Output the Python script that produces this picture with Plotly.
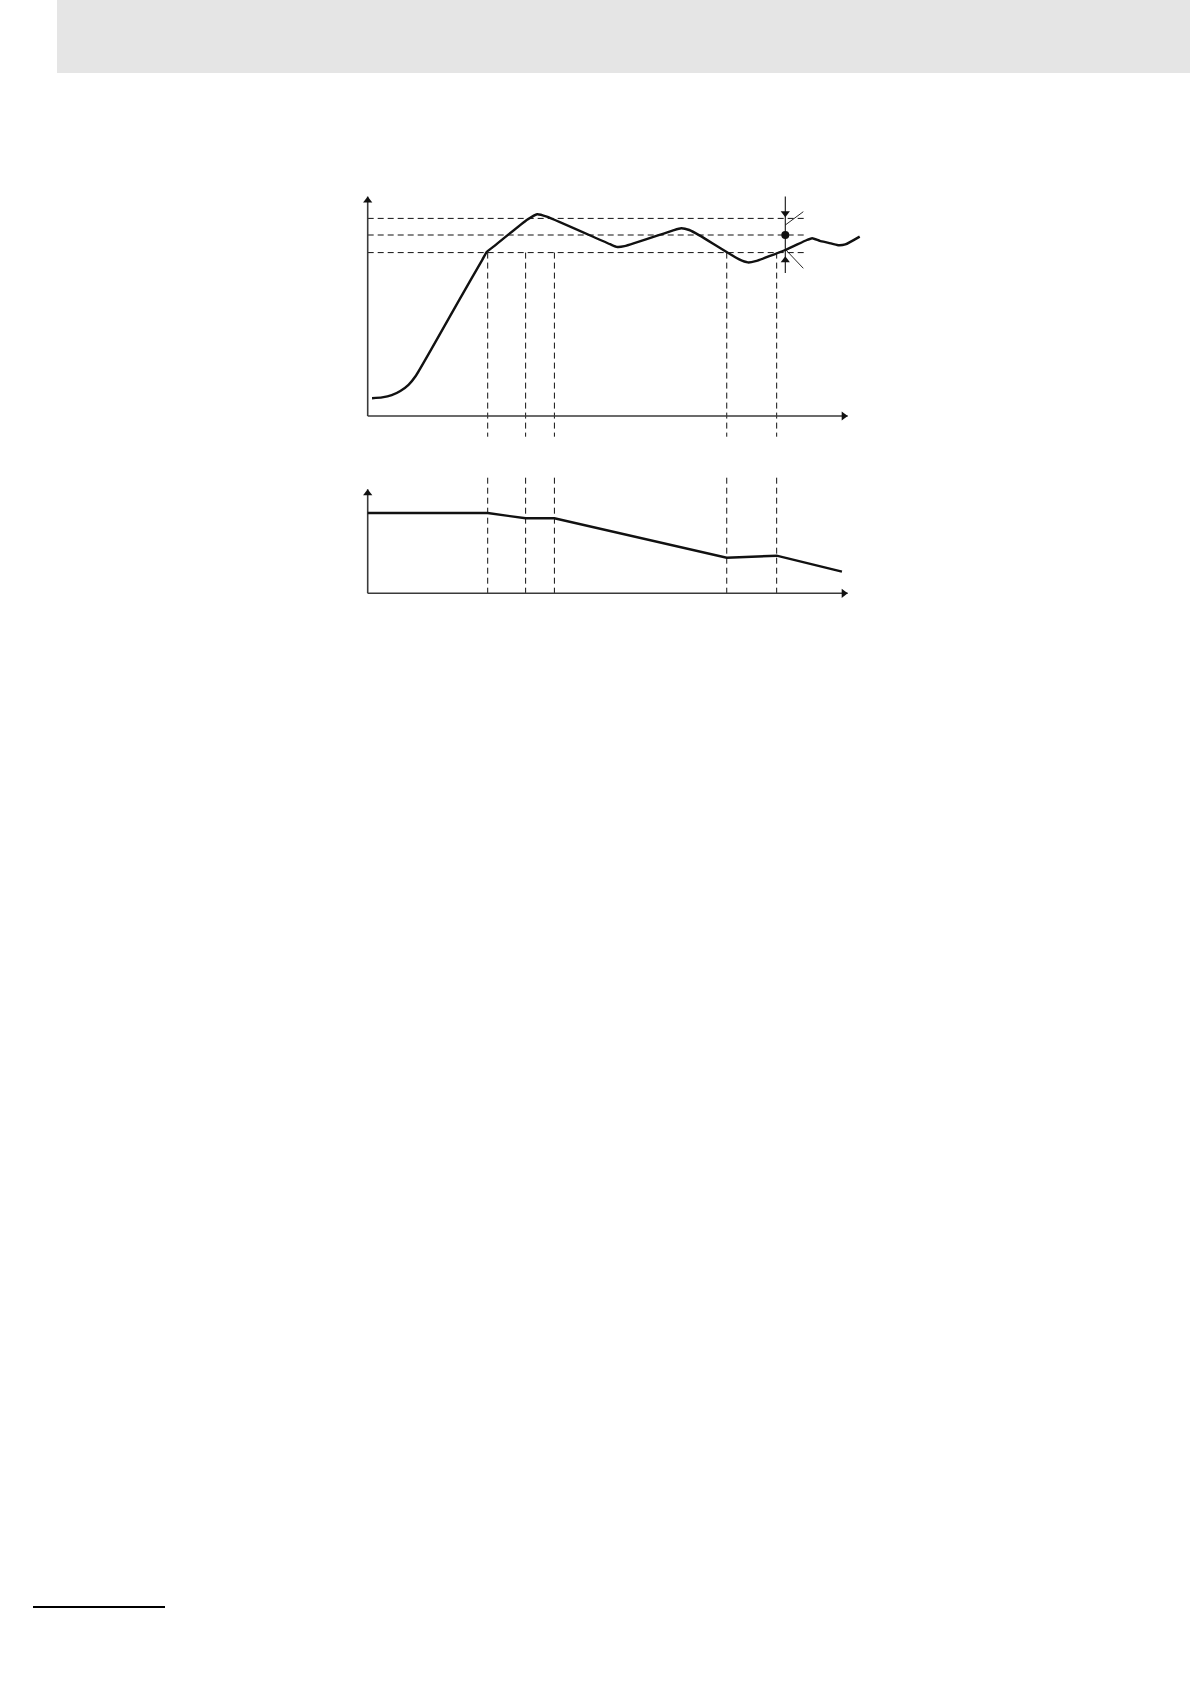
import plotly.graph_objects as go

# process value (temperature) response
pv_time = [0.9, 3.0, 5.0, 6.8, 8.5, 10.0, 19.2, 23.9, 24.8, 26.0, 33.3, 35.3,
           37.3, 50.5, 52.0, 53.5, 63.5, 65.3, 67.0, 69.2, 77.4, 79.2, 80.8,
           87.0, 91.5, 92.6, 94.2, 96.0, 98.0, 99.5, 102.5]
pv_value = [8.9, 9.3, 10.4, 12.5, 15.6, 20.0, 58.6, 78.2, 82.0, 84.3, 98.3,
            100.9, 99.7, 85.9, 84.5, 84.9, 92.7, 93.9, 93.0, 90.2, 78.3, 76.8,
            77.4, 83.0, 88.0, 88.9, 87.6, 86.6, 85.4, 85.8, 89.7]

# set point with band limits
sp_value = 90.5
band_upper = 98.8
band_lower = 81.7
band_end = 91.1          # where the dashed band lines stop
marker_time = 87.0       # time of the band annotation

# event times (vertical dashed lines)
event_times = [25.0, 32.9, 38.9, 74.8, 85.2]

# lower chart: manipulated output
mv_time = [0.0, 25.0, 32.9, 38.9, 74.8, 85.2, 98.8]
mv_value = [80.3, 80.3, 75.0, 75.0, 35.6, 37.6, 21.6]

T_END = 100.0
TOP_V_END = 109.7
BOT_V_END = 104.0

# pixel geometry (figure is 1190 x 1684, no margins)
W, H = 1190, 1684
X0_PX, PX_T = 367.7, 4.8
TOP_PX = (180, 440)
TOP_RANGE = [-12, 118]
BOT_PX = (470, 610)
BOT_RANGE = [-16.7, 123.3]

INK = "#111111"
AXIS = "#3a3a3a"


def dom(px):
    return [1 - px[1] / H, 1 - px[0] / H]


fig = go.Figure()


def seg(x, y, yaxis="y", color=INK, width=1.0, dash="solid", shape="linear"):
    fig.add_trace(go.Scatter(x=x, y=y, yaxis=yaxis, mode="lines",
                             line=dict(color=color, width=width, dash=dash,
                                       shape=shape, smoothing=0.5),
                             hoverinfo="skip", showlegend=False))


def mark(x, y, symbol, size, yaxis="y", color=INK):
    fig.add_trace(go.Scatter(x=x, y=y, yaxis=yaxis, mode="markers",
                             marker=dict(symbol=symbol, size=size, color=color,
                                         line=dict(width=0)),
                             cliponaxis=False, hoverinfo="skip",
                             showlegend=False))


DASH = "6px,4px"
arrow_r = 4  # half of marker size 8, in px

# ---- upper chart ----
for lvl in [band_upper, sp_value, band_lower]:
    seg([0, band_end], [lvl, lvl], dash=DASH)
for t in event_times:
    seg([t, t], [band_lower, -10.35], dash=DASH)
# axes
seg([0, 0], [0, TOP_V_END], color=AXIS, width=1.6)
seg([0, T_END], [0, 0], color=AXIS, width=1.6)
mark([0], [TOP_V_END - arrow_r / 2], "triangle-up", 8, color=INK)
mark([T_END - arrow_r / PX_T], [0], "triangle-right", 8, color=INK)
# response curve
seg(pv_time, pv_value, width=2.4, shape="spline")
# band annotation
seg([marker_time, marker_time], [TOP_V_END, 71.5], width=1.1)
seg([marker_time, marker_time + 3.75], [95.5, 102.15], width=0.9)
seg([marker_time, marker_time + 3.75], [83.35, 73.85], width=0.9)
mark([marker_time], [band_upper + 2.6], "triangle-down", 8)
mark([marker_time], [band_lower - 3.8], "triangle-up", 8)
mark([marker_time], [sp_value], "circle", 8)

# ---- lower chart ----
for t in event_times:
    seg([t, t], [115.6, 0], yaxis="y2", dash=DASH)
seg([0, 0], [0, BOT_V_END], yaxis="y2", color=AXIS, width=1.6)
seg([0, T_END], [0, 0], yaxis="y2", color=AXIS, width=1.6)
mark([0], [BOT_V_END - arrow_r], "triangle-up", 8, yaxis="y2")
mark([T_END - arrow_r / PX_T], [0], "triangle-right", 8, yaxis="y2")
seg(mv_time, mv_value, yaxis="y2", width=2.4)

hidden = dict(visible=False, showgrid=False, zeroline=False, fixedrange=True)
fig.update_layout(
    width=W, height=H, autosize=False,
    margin=dict(l=0, r=0, t=0, b=0, pad=0),
    paper_bgcolor="white", plot_bgcolor="rgba(0,0,0,0)",
    xaxis=dict(hidden, domain=[0, 1],
               range=[-X0_PX / PX_T, (W - X0_PX) / PX_T]),
    yaxis=dict(hidden, domain=dom(TOP_PX), range=TOP_RANGE),
    yaxis2=dict(hidden, domain=dom(BOT_PX), range=BOT_RANGE, anchor="x"),
    shapes=[
        dict(type="rect", xref="paper", yref="paper", layer="below",
             x0=57 / W, x1=1, y0=1 - 73 / H, y1=1,
             fillcolor="#e5e5e5", line=dict(width=0)),
        dict(type="line", xref="paper", yref="paper",
             x0=33 / W, x1=165 / W, y0=1 - 1607 / H, y1=1 - 1607 / H,
             line=dict(color="black", width=2.2)),
    ],
)

fig.write_html("out.html", config={"displayModeBar": False},
               post_script="document.body.style.margin='0';")
